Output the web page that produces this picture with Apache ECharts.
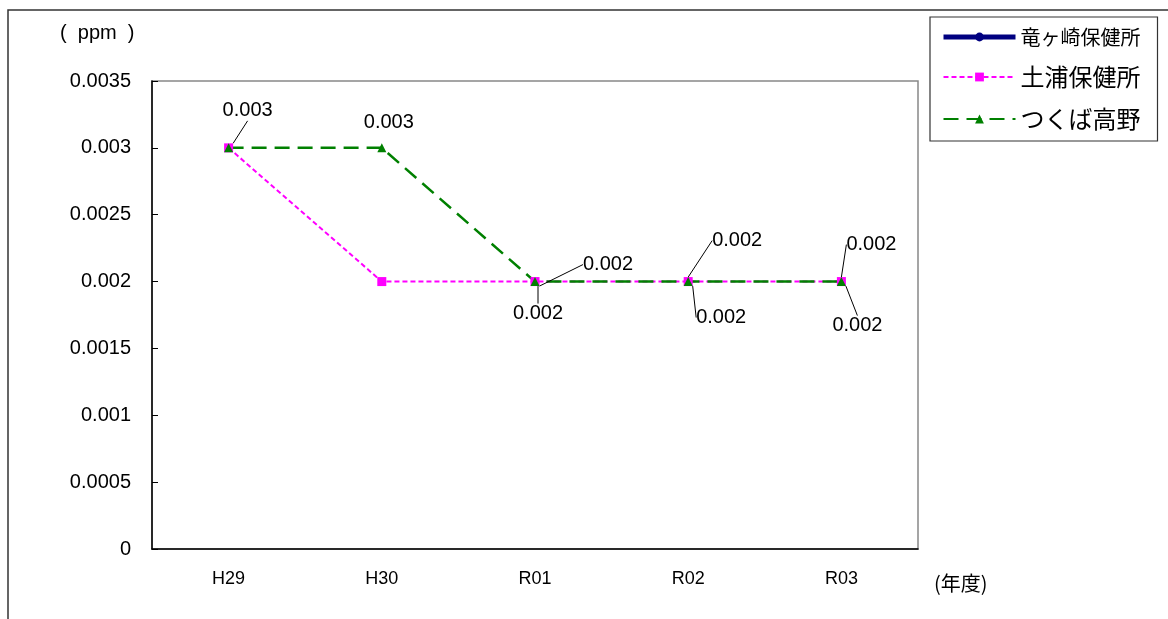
<!DOCTYPE html>
<html><head><meta charset="utf-8">
<script src="https://cdn.jsdelivr.net/npm/echarts@6/dist/echarts.min.js"></script>
<style>html,body{margin:0;padding:0;background:#fff}#c{width:1168px;height:619px}</style>
</head><body><div id="c"></div>
<script>
const categories = ['H29', 'H30', 'R01', 'R02', 'R03'];
const ryugasaki = [null, null, null, null, null];
const tsuchiura = [0.003, 0.002, 0.002, 0.002, 0.002];
const tsukuba = [0.003, 0.003, 0.002, 0.002, 0.002];
const seriesNames = ['竜ヶ崎保健所', '土浦保健所', 'つくば高野'];
const yTicks = {min: 0, max: 0.0035, interval: 0.0005};

// label placement (offsets from the point, pixels) — style only
const pinkShow = [true, false, true, true, true];
const pinkOff = [[19, -37], [0, 0], [3, 32], [33, 36], [16, 44]];
const greenShow = [false, true, true, true, true];
const greenOff = [[0, 0], [7, -25], [73, -17], [49, -41], [30, -37]];

const numFont = '"Liberation Sans", Arial, sans-serif';
const jpFont = '"Noto Sans CJK JP", sans-serif';

const chart = echarts.init(document.getElementById('c'), null, {renderer: 'canvas'});
function layoutFn(offs) {
  return function (p) {
    const o = offs[p.dataIndex];
    return {dx: o[0], dy: o[1]};
  };
}
chart.setOption({
  backgroundColor: '#fff',
  animation: false,
  graphic: [
    {type: 'rect', shape: {x: 8, y: 10, width: 1300, height: 800}, style: {fill: 'none', stroke: '#333', lineWidth: 1.5}, silent: true},
    {type: 'text', left: 60, top: 23, style: {text: '(  ppm  )', font: '20px ' + numFont, fill: '#000'}},
    {type: 'text', left: 934, top: 573, style: {text: '(年度)', font: '20px ' + jpFont, fill: '#000'}}
  ],
  grid: {left: 152, top: 81, right: 250, bottom: 70, show: true, borderColor: '#888', borderWidth: 1.5, backgroundColor: '#fff'},
  legend: {
    orient: 'vertical', left: 930, top: 17,
    data: [
      {name: seriesNames[0], textStyle: {fontSize: 20}, lineStyle: {width: 5}},
      {name: seriesNames[1], textStyle: {fontSize: 24}},
      {name: seriesNames[2], textStyle: {fontSize: 24}}
    ],
    itemWidth: 72, itemHeight: 11, itemGap: 18,
    padding: [10, 17, 10, 11],
    borderColor: '#333', borderWidth: 1.2,
    textStyle: {fontFamily: jpFont, fontSize: 22, color: '#000'}
  },
  xAxis: {
    type: 'category', data: categories, boundaryGap: true,
    axisLine: {lineStyle: {color: '#000', width: 1.5}},
    axisTick: {inside: true, length: 6, lineStyle: {color: '#000'}},
    axisLabel: {color: '#000', fontSize: 18, fontFamily: numFont, margin: 21}
  },
  yAxis: {
    type: 'value', min: yTicks.min, max: yTicks.max, interval: yTicks.interval,
    axisLine: {show: true, lineStyle: {color: '#000', width: 1.5}},
    axisTick: {show: true, inside: true, length: 6, lineStyle: {color: '#000'}},
    splitLine: {show: false},
    axisLabel: {color: '#000', fontSize: 20, fontFamily: numFont, margin: 21}
  },
  series: [
    {
      name: seriesNames[0], type: 'line', data: ryugasaki,
      symbol: 'circle', symbolSize: 8,
      lineStyle: {color: '#000080', width: 4},
      itemStyle: {color: '#000080'}
    },
    {
      name: seriesNames[1], type: 'line', data: tsuchiura.map((v, i) => ({value: v, label: {show: pinkShow[i]}, labelLine: {show: pinkShow[i]}})),
      symbol: 'rect', symbolSize: 9,
      lineStyle: {color: '#FF00FF', width: 2, type: [5, 3]},
      itemStyle: {color: '#FF00FF'},
      label: {show: true, position: 'inside', color: '#000', fontSize: 20, fontFamily: numFont, formatter: p => String(p.value)},
      labelLine: {show: true, lineStyle: {color: '#000', width: 1}},
      labelLayout: layoutFn(pinkOff)
    },
    {
      name: seriesNames[2], type: 'line', data: tsukuba.map((v, i) => ({value: v, label: {show: greenShow[i]}, labelLine: {show: greenShow[i] && i > 1}})),
      symbol: 'triangle', symbolSize: 9,
      lineStyle: {color: '#008000', width: 2.5, type: [15, 8]},
      itemStyle: {color: '#008000'},
      label: {show: true, position: 'inside', color: '#000', fontSize: 20, fontFamily: numFont, formatter: p => String(p.value)},
      labelLine: {show: true, lineStyle: {color: '#000', width: 1}},
      labelLayout: layoutFn(greenOff)
    }
  ]
});
</script>
</body></html>
